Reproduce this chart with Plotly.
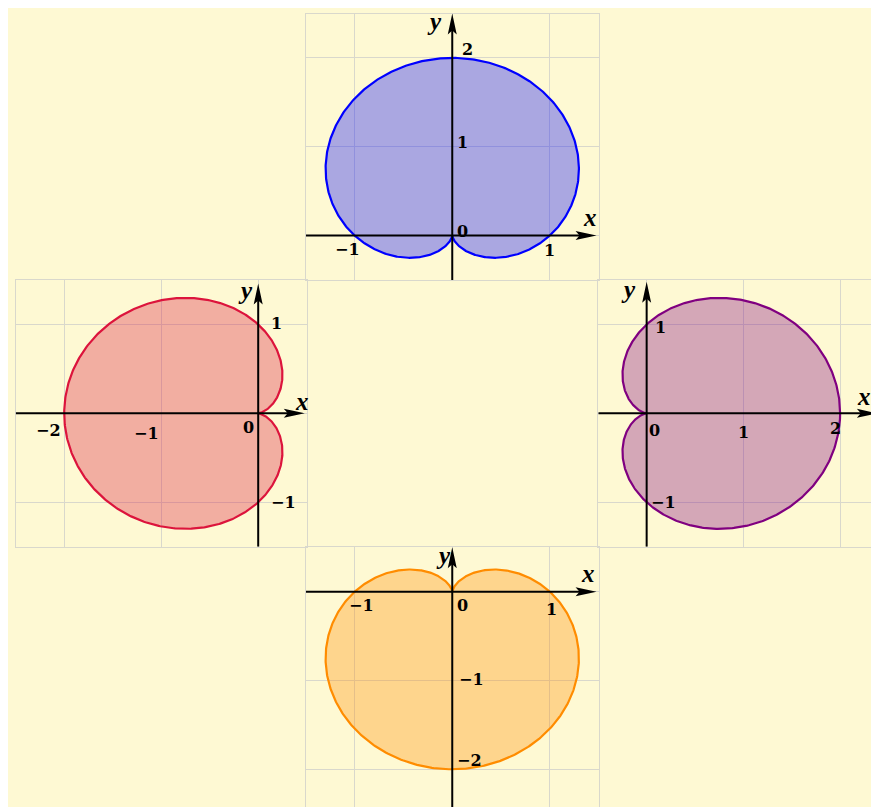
import numpy as np
import plotly.graph_objects as go

W, H = 879, 807
PAGE_PAD = 8  # the html body puts the figure 8px in from the corner

# four cardioids r = 1 +/- sin(t) or cos(t), panels: top, left, right, bottom
theta = np.linspace(0, 2 * np.pi, 721)
curve_names = ['r = 1 + sin θ', 'r = 1 − cos θ', 'r = 1 + cos θ', 'r = 1 − sin θ']
curve_trig = ['sin', 'cos', 'cos', 'sin']
curve_sign = [1, -1, 1, -1]

x_ranges = [[-1.5, 1.5], [-2.5, 0.5], [-0.5, 2.402], [-1.5, 1.5]]
y_ranges = [[-0.5, 2.5], [-1.5, 1.5], [-1.5, 1.5], [-2.425, 0.5]]

x_tick_vals = [[-1, 1], [-2, -1], [1, 2], [-1, 1]]
y_tick_vals = [[1, 2], [1, -1], [1, -1], [-1, -2]]

line_colors = ['#0000ff', '#dc143c', '#800080', '#ff8c00']
fill_colors = ['rgba(0,0,255,0.33)', 'rgba(220,20,60,0.33)',
               'rgba(128,0,128,0.33)', 'rgba(255,140,0,0.33)']

# pixel boxes of the panels on screen (left, right, top, bottom)
boxes = [(306, 598.5, 13.5, 280), (15.7, 306.7, 280, 546.7),
         (598.3, 879, 280, 546.7), (306, 598.5, 547.3, 807)]

# where the labels sit (data coords)
xtick_pos = [[(-1.07, -0.16), (1.0, -0.17)],
             [(-2.16, -0.19), (-1.15, -0.23)],
             [(1.0, -0.21), (1.95, -0.17)],
             [(-0.93, -0.16), (1.02, -0.2)]]
ytick_pos = [[(0.11, 1.05), (0.16, 2.09)],
             [(0.19, 1.01), (0.26, -1.0)],
             [(0.14, 0.97), (0.17, -1.0)],
             [(0.2, -0.99), (0.18, -1.9)]]
zero_pos = [(0.11, 0.045), (-0.1, -0.16), (0.086, -0.19), (0.11, -0.15)]
xlab_pos = [(1.41, 0.2), (0.45, 0.13), (2.25, 0.195), (1.39, 0.21)]
ylab_pos = [(-0.18, 2.41), (-0.135, 1.38), (-0.19, 1.39), (-0.09, 0.41)]
# axis arrow extents: x from/to, y from/to
x_axis_ext = [(-1.5, 1.48), (-2.5, 0.48), (-0.5, 2.39), (-1.5, 1.48)]
y_axis_ext = [(-0.5, 2.5), (-1.5, 1.46), (-1.5, 1.48), (-2.43, 0.5)]

grid_col = '#d9d8cc'
tick_font = dict(family='DejaVu Serif', size=16, color='black')
lab_font = dict(family='Liberation Serif', size=25, color='black')


def fmt(v):
    return str(v).replace('-', '\u2212')


fig = go.Figure()
shapes = []
annotations = []

# yellow page
shapes.append(dict(type='rect', xref='paper', yref='paper', x0=0, x1=1, y0=0, y1=1,
                   fillcolor='#fef9d3', line_width=0, layer='below'))

for i in range(4):
    n = '' if i == 0 else str(i + 1)
    xa, ya = 'x' + n, 'y' + n
    trig = np.sin(theta) if curve_trig[i] == 'sin' else np.cos(theta)
    r = 1 + curve_sign[i] * trig
    fig.add_trace(go.Scatter(x=r * np.cos(theta), y=r * np.sin(theta), mode='lines',
                             name=curve_names[i], fill='toself', fillcolor=fill_colors[i],
                             line=dict(color=line_colors[i], width=2.2),
                             xaxis=xa, yaxis=ya, showlegend=False, hoverinfo='skip'))

    l, rr, t, b = [v - PAGE_PAD for v in boxes[i]]
    sx = (rr - l) / (x_ranges[i][1] - x_ranges[i][0])
    sy = (b - t) / (y_ranges[i][1] - y_ranges[i][0])

    common = dict(showgrid=True, gridcolor=grid_col, gridwidth=1, dtick=1, tick0=0,
                  showticklabels=False, zeroline=False, ticks='', fixedrange=True,
                  showline=True, linecolor=grid_col, linewidth=1)
    xkw = dict(common, domain=[l / W, rr / W], range=x_ranges[i], anchor=ya, mirror=(i != 3))
    if i == 3:
        xkw['side'] = 'top'
    ykw = dict(common, domain=[1 - b / H, 1 - t / H], range=y_ranges[i], anchor=xa, mirror=(i != 2))
    fig.update_layout({'xaxis' + n: xkw, 'yaxis' + n: ykw})

    # axes with arrow heads
    x0, x1 = x_axis_ext[i]
    y0, y1 = y_axis_ext[i]
    shapes.append(dict(type='line', xref=xa, yref=ya, x0=x0, x1=x1 - 12 / sx, y0=0, y1=0,
                       line=dict(color='black', width=2), layer='above'))
    shapes.append(dict(type='line', xref=xa, yref=ya, x0=0, x1=0, y0=y0, y1=y1 - 12 / sy,
                       line=dict(color='black', width=2), layer='above'))
    shapes.append(dict(type='path', xref=xa, yref=ya, xsizemode='pixel', ysizemode='pixel',
                       xanchor=x1, yanchor=0, path='M0,0 L-21,4.5 L-17,0 L-21,-4.5 Z',
                       fillcolor='black', line_width=0, layer='above'))
    shapes.append(dict(type='path', xref=xa, yref=ya, xsizemode='pixel', ysizemode='pixel',
                       xanchor=0, yanchor=y1, path='M0,0 L4.5,-21 L0,-17 L-4.5,-21 Z',
                       fillcolor='black', line_width=0, layer='above'))

    for v, (px, py) in zip(x_tick_vals[i], xtick_pos[i]):
        annotations.append(dict(x=px, y=py, xref=xa, yref=ya, text='<b>' + fmt(v) + '</b>',
                                showarrow=False, font=tick_font))
    for v, (px, py) in zip(y_tick_vals[i], ytick_pos[i]):
        annotations.append(dict(x=px, y=py, xref=xa, yref=ya, text='<b>' + fmt(v) + '</b>',
                                showarrow=False, font=tick_font))
    annotations.append(dict(x=zero_pos[i][0], y=zero_pos[i][1], xref=xa, yref=ya, text='<b>0</b>',
                            showarrow=False, font=tick_font))
    annotations.append(dict(x=xlab_pos[i][0], y=xlab_pos[i][1], xref=xa, yref=ya,
                            text='<b><i>x</i></b>', showarrow=False, font=lab_font))
    annotations.append(dict(x=ylab_pos[i][0], y=ylab_pos[i][1], xref=xa, yref=ya,
                            text='<b><i>y</i></b>', showarrow=False, font=lab_font,
                            borderpad=0))

fig.update_layout(
    width=W, height=H,
    margin=dict(l=0, r=0, t=0, b=0),
    paper_bgcolor='white', plot_bgcolor='rgba(0,0,0,0)',
    shapes=shapes, annotations=annotations,
    showlegend=False,
)

fig.write_html("out.html")
